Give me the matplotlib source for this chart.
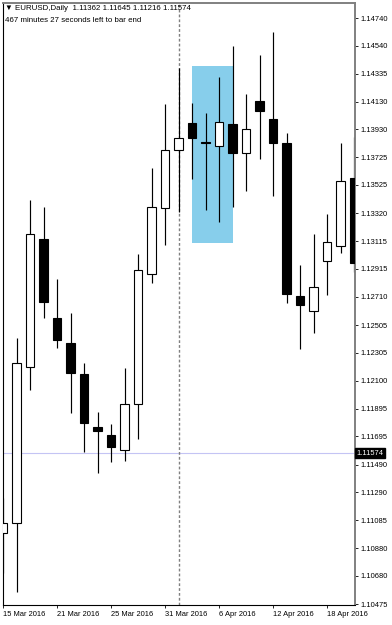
import matplotlib.pyplot as plt
from matplotlib.patches import Rectangle

# EURUSD daily bars, 15 Mar - 20 Apr 2016
dates = ['15 Mar', '16 Mar', '17 Mar', '18 Mar', '21 Mar', '22 Mar', '23 Mar', '24 Mar',
         '25 Mar', '28 Mar', '29 Mar', '30 Mar', '31 Mar', '1 Apr', '4 Apr', '5 Apr',
         '6 Apr', '7 Apr', '8 Apr', '11 Apr', '12 Apr', '13 Apr', '14 Apr', '15 Apr',
         '18 Apr', '19 Apr', '20 Apr']
opens = [1.10992, 1.11065, 1.12200, 1.13132, 1.12557, 1.12375, 1.12149, 1.11764,
         1.11705, 1.11596, 1.11931, 1.12877, 1.13357, 1.13780, 1.13977, 1.13835,
         1.13809, 1.13969, 1.13758, 1.14136, 1.14006, 1.13831, 1.12717, 1.12608,
         1.12972, 1.13081, 1.13576]
highs = [1.11246, 1.12411, 1.13415, 1.13365, 1.12841, 1.12593, 1.12229, 1.11873,
         1.11785, 1.12193, 1.13023, 1.13649, 1.14115, 1.14377, 1.14122, 1.14049,
         1.14311, 1.14537, 1.14187, 1.14471, 1.14639, 1.13904, 1.12943, 1.13168,
         1.13314, 1.13831, 1.13874]
lows = [1.10701, 1.10562, 1.12033, 1.12557, 1.12339, 1.11865, 1.11582, 1.11429,
        1.11509, 1.11516, 1.11676, 1.12811, 1.13088, 1.13328, 1.13569, 1.13343,
        1.13256, 1.13365, 1.13481, 1.13714, 1.13445, 1.12666, 1.12331, 1.12448,
        1.12724, 1.13030, 1.12891]
closes = [1.11065, 1.12229, 1.13168, 1.12673, 1.12397, 1.12156, 1.11793, 1.11734,
          1.11618, 1.11931, 1.12906, 1.13365, 1.13780, 1.13867, 1.13867, 1.13827,
          1.13984, 1.13758, 1.13933, 1.14063, 1.13831, 1.12732, 1.12652, 1.12783,
          1.13110, 1.13554, 1.12957]

price_ticks = [1.14740, 1.14540, 1.14335, 1.14130, 1.13930, 1.13725, 1.13525, 1.13320,
               1.13115, 1.12915, 1.12710, 1.12505, 1.12305, 1.12100, 1.11895, 1.11695,
               1.11490, 1.11290, 1.11085, 1.10880, 1.10680, 1.10475]
date_ticks = [0, 4, 8, 12, 16, 20, 24]
date_labels = ['15 Mar 2016', '21 Mar 2016', '25 Mar 2016', '31 Mar 2016',
               '6 Apr 2016', '12 Apr 2016', '18 Apr 2016']

current_price = 1.11574
separator_bar = 13
box_x = (14, 17)
box_y = (1.13102, 1.14391)

fonts = ['Liberation Sans', 'DejaVu Sans']
fs = 5.4

fig = plt.figure(figsize=(3.92, 6.25), dpi=100)
ax = fig.add_axes([2.5 / 392, 20 / 625, 352.5 / 392, 602.5 / 625])

# highlighted zone
ax.add_patch(Rectangle((box_x[0], box_y[0]), box_x[1] - box_x[0], box_y[1] - box_y[0],
                       facecolor='#87ceeb', edgecolor='none', zorder=1))

# current price line and separator
ax.axhline(current_price, color='#c4c4f4', lw=0.8, zorder=0.5)
ax.axvline(separator_bar, color='#808080', lw=1.0, linestyle=(0, (2, 1.5)), zorder=0.8)

width = 0.63
for i in range(len(dates)):
    o, h, l, c = opens[i], highs[i], lows[i], closes[i]
    ax.vlines(i, l, h, color='black', lw=0.85, zorder=2)
    bottom = min(o, c)
    height = max(abs(c - o), 0.00002)
    face = 'white' if c >= o else 'black'
    ax.bar(i, height, width=width, bottom=bottom, color=face, edgecolor='black',
           linewidth=0.8, zorder=3)

ax.set_xlim(-0.037, 26.07)
ax.set_ylim(1.10468, 1.14853)

ax.yaxis.tick_right()
ax.set_yticks(price_ticks)
ax.set_yticklabels(['%.5f' % p for p in price_ticks], fontsize=fs, family=fonts)
ax.set_xticks(date_ticks)
ax.set_xticklabels(date_labels, fontsize=fs, family=fonts)
for t in ax.get_xticklabels():
    t.set_horizontalalignment('left')
ax.tick_params(axis='y', length=2.5, width=0.6, pad=1.5, colors='black')
ax.tick_params(axis='x', length=2.5, width=0.6, pad=1.5, colors='black')

for side in ['left', 'bottom']:
    ax.spines[side].set_color('black')
    ax.spines[side].set_linewidth(0.8)
for side in ['top', 'right']:
    ax.spines[side].set_color('#808080')
    ax.spines[side].set_linewidth(1.4)

# current price label
ax.text(1.004, current_price, '%.5f' % current_price, transform=ax.get_yaxis_transform(),
        fontsize=fs, family=fonts, color='white', va='center', ha='left',
        bbox=dict(boxstyle='square,pad=0.15', facecolor='black', edgecolor='black'),
        zorder=10, clip_on=False)

# header text
fig.text(5 / 392, 1 - 9 / 625, '\u25bc EURUSD,Daily  1.11362 1.11645 1.11216 1.11574',
         fontsize=5.7, family=fonts, va='center', ha='left')
fig.text(5 / 392, 1 - 20 / 625, '467 minutes 27 seconds left to bar end',
         fontsize=5.7, family=fonts, va='center', ha='left')

fig.savefig('out.png', dpi=100)
